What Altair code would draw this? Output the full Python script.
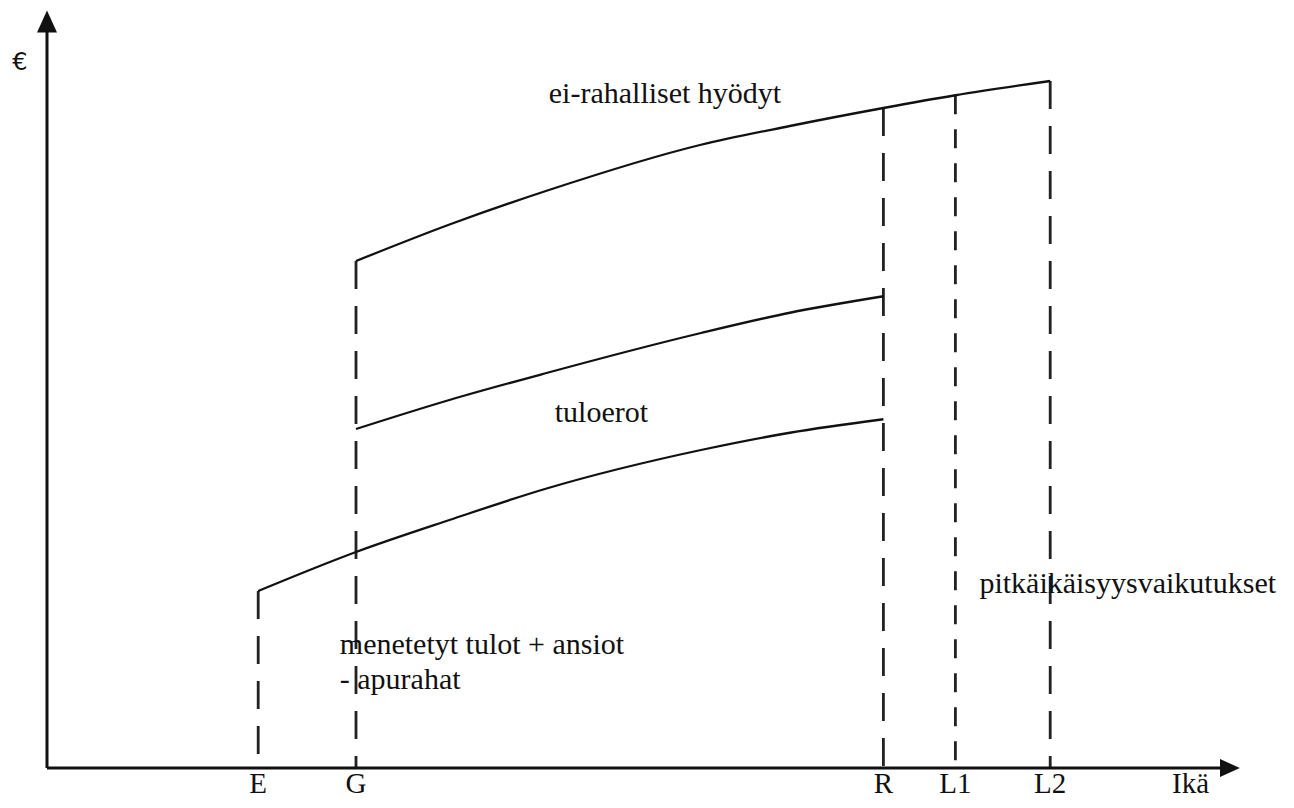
import altair as alt
import pandas as pd

FONT = "Liberation Serif"
INK = "#111111"

# ---- data (age units on x, euro units on y) ----
marker_names = ["E", "G", "R", "L1", "L2"]
marker_age = [17.6, 25.75, 69.7, 75.7, 83.6]
marker_top = [23.6, 67.6, 88.0, 89.7, 91.6]

top_age = [25.75, 33.6, 41.7, 54.5, 61.9, 69.7, 75.7, 83.6]
top_val = [67.6, 72.5, 77.0, 83.1, 85.6, 88.0, 89.7, 91.6]

mid_age = [25.75, 33.6, 41.7, 54.5, 61.9, 69.7]
mid_val = [45.2, 49.1, 52.7, 58.0, 60.7, 62.9]

low_age = [17.6, 25.75, 33.6, 41.7, 54.5, 61.9, 69.7]
low_val = [23.6, 28.8, 33.1, 37.3, 42.4, 44.7, 46.5]

label_texts = ["ei-rahalliset hyödyt", "tuloerot", "pitkäikäisyysvaikutukset"]
label_age = [51.5, 46.2, 77.7]
label_val = [88.7, 46.1, 23.3]

note_lines = ["menetetyt tulot + ansiot", "- apurahat"]
note_age = [24.4, 24.4]
note_val = [15.2, 10.5]

tick_label_val = -3.3
axis_x_end = 99.4
axis_y_end = 101.0
x_title = "Ikä"
y_title = "€"

X_DOMAIN = [-3.25, 103.25]
Y_DOMAIN = [-4.2667, 101.3333]

xs = alt.Scale(domain=X_DOMAIN, nice=False, zero=False)
ys = alt.Scale(domain=Y_DOMAIN, nice=False, zero=False)


def X(f):
    return alt.X(f, type="quantitative", scale=xs, axis=None)


def Y(f):
    return alt.Y(f, type="quantitative", scale=ys, axis=None)


curves = pd.concat([
    pd.DataFrame({"age": top_age, "val": top_val, "series": "top"}),
    pd.DataFrame({"age": mid_age, "val": mid_val, "series": "mid"}),
    pd.DataFrame({"age": low_age, "val": low_val, "series": "low"}),
])

markers = pd.DataFrame({"name": marker_names, "age": marker_age,
                        "top": marker_top, "base": [0.0] * len(marker_names),
                        "label_y": [tick_label_val] * len(marker_names)})

curve_layer = alt.Chart(curves).mark_line(
    color=INK, strokeWidth=2.3, interpolate="monotone"
).encode(x=X("age"), y=Y("val"), detail="series:N")

long_dash = alt.Chart(markers[markers["name"] != "L1"]).mark_rule(
    color="#222222", strokeWidth=2.8, strokeDash=[28, 17]
).encode(x=X("age"), y=Y("top"), y2="base")

short_dash = alt.Chart(markers[markers["name"] == "L1"]).mark_rule(
    color="#222222", strokeWidth=2.8, strokeDash=[19, 15]
).encode(x=X("age"), y=Y("top"), y2="base")

tick_labels = alt.Chart(markers).mark_text(
    font=FONT, fontSize=29, color=INK, align="center", baseline="alphabetic"
).encode(x=X("age"), y=Y("label_y"), text="name:N")

axes_df = pd.DataFrame({
    "x1": [0.0, 0.0], "x2": [0.0, axis_x_end - 1.2],
    "y1": [0.0, 0.0], "y2": [axis_y_end - 2.0, 0.0],
})
axis_lines = alt.Chart(axes_df).mark_rule(color=INK, strokeWidth=3).encode(
    x=X("x1"), x2="x2", y=Y("y1"), y2="y2"
)

y_head = alt.Chart(pd.DataFrame({"age": [0.0], "val": [axis_y_end]})).mark_point(
    filled=True, opacity=1, color=INK, strokeWidth=0,
    shape="M0,0L1,2.2L-1,2.2Z", size=400
).encode(x=X("age"), y=Y("val"))

x_head = alt.Chart(pd.DataFrame({"age": [axis_x_end], "val": [0.0]})).mark_point(
    filled=True, opacity=1, color=INK, strokeWidth=0,
    shape="M0,0L-2.2,-1L-2.2,1Z", size=324
).encode(x=X("age"), y=Y("val"))

labels_df = pd.DataFrame({"text": label_texts, "age": label_age, "val": label_val,
                          "al": ["center", "center", "left"]})
center_labels = alt.Chart(labels_df[labels_df["al"] == "center"]).mark_text(
    font=FONT, fontSize=30, color=INK, align="center", baseline="alphabetic"
).encode(x=X("age"), y=Y("val"), text="text:N")
left_labels = alt.Chart(labels_df[labels_df["al"] == "left"]).mark_text(
    font=FONT, fontSize=30, color=INK, align="left", baseline="alphabetic"
).encode(x=X("age"), y=Y("val"), text="text:N")

notes = alt.Chart(pd.DataFrame({"text": note_lines, "age": note_age, "val": note_val})).mark_text(
    font=FONT, fontSize=30, color=INK, align="left", baseline="alphabetic"
).encode(x=X("age"), y=Y("val"), text="text:N")

titles_df = pd.DataFrame({"text": [y_title, x_title], "age": [-2.25, 93.75],
                          "val": [93.1, tick_label_val]})
y_title_layer = alt.Chart(titles_df.iloc[[0]]).mark_text(
    font="DejaVu Sans", fontSize=24, color=INK, align="center", baseline="alphabetic"
).encode(x=X("age"), y=Y("val"), text="text:N")
x_title_layer = alt.Chart(titles_df.iloc[[1]]).mark_text(
    font=FONT, fontSize=29, color=INK, align="left", baseline="alphabetic"
).encode(x=X("age"), y=Y("val"), text="text:N")

chart = alt.layer(
    long_dash, short_dash, curve_layer, axis_lines, y_head, x_head,
    tick_labels, center_labels, left_labels, notes, y_title_layer, x_title_layer
).properties(
    width=1278, height=792,
    autosize=alt.AutoSizeParams(type="none"),
    padding=0,
    background="white",
).configure_view(stroke=None)

chart.save("out.html", embed_options={"renderer": "svg", "actions": False})
